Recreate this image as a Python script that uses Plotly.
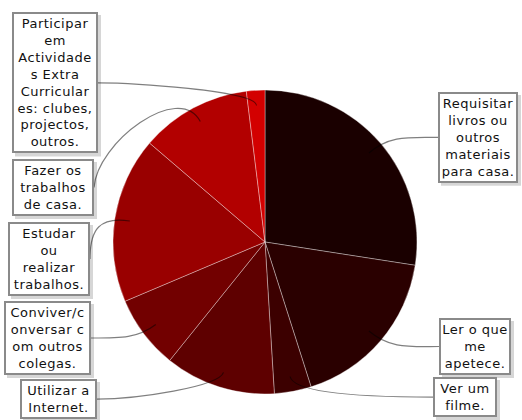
import numpy as np
import plotly.graph_objects as go

# ---- data ----
categories = [
    "Requisitar livros ou outros materiais para casa.",
    "Ler o que me apetece.",
    "Ver um filme.",
    "Utilizar a Internet.",
    "Conviver/conversar com outros colegas.",
    "Estudar ou realizar trabalhos.",
    "Fazer os trabalhos de casa.",
    "Participar em Actividades Extra Curriculares: clubes, projectos, outros.",
]
values = [14, 9, 2, 6, 4, 9, 6, 1]
label_lines = [
    ["Requisitar", "livros ou", "outros", "materiais", "para casa."],
    ["Ler o que", "me", "apetece."],
    ["Ver um", "filme."],
    ["Utilizar a", "Internet."],
    ["Conviver/c", "onversar c", "om outros", "colegas."],
    ["Estudar", "ou", "realizar", "trabalhos."],
    ["Fazer os", "trabalhos", "de casa."],
    ["Participar", "em", "Actividade", "s Extra", "Curricular", "es: clubes,", "projectos,", "outros."],
]
colors = ["#1a0000", "#2a0000", "#3c0000", "#5e0000", "#720000", "#990000", "#b20000", "#d30000"]

# ---- layout / style ----
W, H = 522, 420
CX, CY, R = 265, 242, 152
FONT = 13
PAD, BW = 2, 2
# box: (left, top, outer width, side where connector attaches, approach offset, r1)
boxes = [
    (438, 92, 80, "left", (-30, 0), 1.08),
    (439, 318, 72, "left", (-30, 0), 1.08),
    (433, 377, 64, "left", (-40, 0), 1.03),
    (20, 379, 77, "right", (40, 0), 1.0),
    (4, 301, 87, "right", (30, 0), 1.05),
    (8, 222, 82, "right", (0, -30), 1.1),
    (12, 159, 82, "right", (3, -45), 1.2),
    (12, 12, 86, "right", (30, 0), 1.0),
]

fig = go.Figure()
fig.add_trace(go.Pie(
    labels=categories, values=values, sort=False, direction="clockwise", rotation=0,
    marker=dict(colors=colors, line=dict(color="rgba(255,255,255,0.35)", width=1)),
    textinfo="none", hoverinfo="label+value+percent", showlegend=False,
    domain=dict(x=[(CX - R) / W, (CX + R) / W], y=[1 - (CY + R) / H, 1 - (CY - R) / H]),
))
# invisible pixel axes for connectors / boxes
fig.add_trace(go.Scatter(x=[0, W], y=[0, H], mode="markers", marker=dict(opacity=0),
                         showlegend=False, hoverinfo="skip"))

total = sum(values)
cum = np.cumsum([0] + values)
shapes, annotations = [], []

def pt(theta, r):
    return CX + r * np.sin(theta), CY - r * np.cos(theta)

for i, lines in enumerate(label_lines):
    left, top, ow, side, off, r1 = boxes[i]
    n = len(lines)
    bh = (n - 1) * 1.3 * FONT + 1.17 * FONT + 2 * (PAD + BW)
    ay = top + bh / 2
    ax = left if side == "left" else left + ow
    theta = 2 * np.pi * (cum[i] + values[i] / 2) / total
    x0, y0 = pt(theta, 0.9 * R)
    x1, y1 = pt(theta, r1 * R)
    x2, y2 = ax + off[0], ay + off[1]
    shapes.append(dict(type="path", xref="x", yref="y",
                       path=f"M {x0:.1f},{y0:.1f} C {x1:.1f},{y1:.1f} {x2:.1f},{y2:.1f} {ax:.1f},{ay:.1f}",
                       line=dict(color="rgba(0,0,0,0.5)", width=1.2)))
    # shadow
    shapes.append(dict(type="rect", xref="x", yref="y", x0=left + 3, x1=left + ow + 3,
                       y0=top + 3, y1=top + bh + 3, fillcolor="rgba(0,0,0,0.16)",
                       line=dict(width=0), layer="above"))
    text = "<br>".join(f'<span style="letter-spacing:0.5px">{l}</span>' for l in lines)
    inner_w = ow - 2 * (PAD + BW)
    annotations.append(dict(x=left, y=top, xref="x", yref="y", xanchor="left", yanchor="top",
                            text=text, showarrow=False, width=inner_w, align="center",
                            font=dict(family="DejaVu Sans", size=FONT, color="#111111"),
                            bgcolor="white", bordercolor="#8a8a8a",
                            borderwidth=BW, borderpad=PAD))

fig.update_layout(
    width=W, height=H, margin=dict(l=0, r=0, t=0, b=0),
    paper_bgcolor="white", plot_bgcolor="rgba(0,0,0,0)",
    xaxis=dict(range=[0, W], visible=False, domain=[0, 1], fixedrange=True),
    yaxis=dict(range=[H, 0], visible=False, domain=[0, 1], fixedrange=True),
    shapes=shapes, annotations=annotations, showlegend=False,
)
fig.write_html("out.html", config={"displayModeBar": False},
               post_script="document.body.style.margin='0';document.body.style.overflow='hidden';")
